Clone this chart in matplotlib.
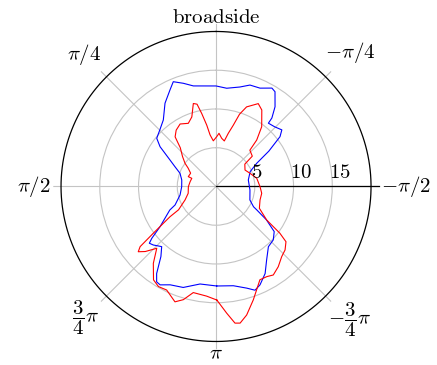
import matplotlib.pyplot as plt
import numpy as np
from matplotlib.transforms import offset_copy

plt.rcParams['mathtext.fontset'] = 'cm'

# blue pattern: angle (deg, 0 = broadside, counterclockwise) and radius
blue_deg = [-179.6, -170.1, -163.2, -159.4, -155.9, -150.6, -145.4, -139.0, -133.0, -127.8,
            -123.5, -120.0, -118.4, -111.7, -95.9, -78.6, -66.5, -60.3, -56.2, -52.1,
            -49.3, -44.6, -39.6, -39.2, -36.5, -31.9, -29.6, -24.1, -18.5, -13.5,
            -6.2, 0.0, 12.7, 17.6, 22.2, 25.5, 31.5, 38.4, 44.7, 50.9,
            54.6, 60.1, 64.2, 69.9, 79.3, 90.3, 103.3, 114.3, 117.0, 125.7,
            128.9, 130.4, 133.0, 137.9, 141.8, 145.7, 148.1, 150.4, 155.0, 162.0, 170.7]
blue_r = [12.84, 13.0, 13.7, 14.3, 13.9, 12.9, 11.5, 10.3, 10.1, 9.5,
          7.8, 6.1, 5.5, 4.7, 4.4, 4.25, 4.8, 6.05, 8.2, 10.46,
          11.2, 10.8, 10.6, 11.4, 12.8, 14.4, 14.6, 13.9, 13.8, 13.2,
          12.75, 12.97, 13.3, 13.97, 14.6, 13.8, 12.6, 10.95, 10.3, 9.86,
          8.86, 6.85, 5.9, 4.95, 4.5, 4.43, 4.77, 5.8, 6.7, 8.9,
          10.65, 11.3, 11.07, 10.46, 11.5, 13.6, 14.5, 14.6, 14.0, 13.7, 12.75]

# red pattern
red_deg = [-179.6, -175.2, -172.1, -170.0, -166.6, -161.8, -154.8, -150.6, -147.1, -142.2,
           -136.9, -132.6, -128.3, -126.2, -123.5, -116.7, -107.1, -98.5, -90.3, -78.6,
           -68.8, -60.4, -52.2, -50.1, -43.0, -41.2, -37.4, -30.9, -27.0, -21.0,
           -18.0, -15.7, -13.0, -10.3, -6.7, -3.2, -0.8, 3.4, 6.6, 8.6,
           11.1, 13.0, 15.3, 19.2, 23.7, 29.9, 35.3, 39.5, 42.7, 48.2,
           53.2, 56.7, 62.4, 70.5, 71.4, 79.5, 90.4, 103.8, 113.5, 121.9,
           123.3, 126.7, 128.4, 130.0, 132.6, 136.2, 140.8, 146.2, 150.1, 154.5,
           160.4, 163.9, 167.9, 175.1]
red_r = [14.65, 16.4, 17.8, 17.9, 17.05, 15.4, 13.3, 13.35, 13.6, 13.1,
         12.4, 12.1, 11.5, 10.2, 7.84, 6.26, 5.94, 5.96, 5.68, 5.36,
         4.7, 4.3, 4.7, 6.1, 6.4, 7.97, 9.7, 11.5, 12.0, 11.0,
         9.8, 8.2, 7.05, 5.97, 6.26, 6.87, 6.43, 5.9, 6.7, 8.0,
         9.6, 10.9, 11.1, 9.5, 8.9, 9.3, 8.9, 8.3, 6.8, 5.8,
         5.0, 4.3, 3.7, 3.8, 3.3, 3.4, 3.57, 3.7, 4.36, 5.7,
         7.1, 10.1, 12.5, 13.1, 12.4, 11.05, 12.8, 14.5, 14.9, 14.8,
         15.8, 15.2, 14.0, 14.2]

tick_deg = [0, 45, -45, 90, -90, 135, -135, 180]
tick_lbl = [r'$\mathrm{broadside}$', r'$\pi/4$', r'$-\pi/4$', r'$\pi/2$', r'$-\pi/2$',
            r'$\dfrac{3}{4}\pi$', r'$-\dfrac{3}{4}\pi$', r'$\pi$']
tick_lbl_r = [21.87, 24.1, 24.5, 23.5, 24.5, 23.9, 24.3, 21.46]
r_ticks = [5, 10, 15]
r_max = 20
r_lim = 21


def closed(deg, r):
    th = np.deg2rad(np.array(deg + [deg[0] + 360]))
    return th, np.array(r + [r[0]])


fig = plt.figure(figsize=(4.37, 3.65), dpi=100)
ax = fig.add_axes([0.1219, 0.0432, 0.7449, 0.8918], projection='polar')
ax.set_theta_zero_location('N')
ax.set_theta_direction(1)
ax.set_ylim(0, r_lim)
ax.set_rticks(r_ticks)
ax.set_yticklabels([])
ax.set_thetagrids([d % 360 for d in tick_deg], labels=[''] * len(tick_deg))
ax.spines['polar'].set_visible(False)
ax.grid(True, color='#c4c4c4', lw=0.8)
ax.set_axisbelow(True)
ax.tick_params(length=0)

th = np.linspace(0, 2 * np.pi, 400)
ax.plot(th, np.full_like(th, r_max), color='k', lw=0.9)
ax.plot([-np.pi / 2, -np.pi / 2], [0, r_lim], color='k', lw=0.9, clip_on=False)

t, r = closed(blue_deg, blue_r)
ax.plot(t, r, color='blue', lw=0.8)
t, r = closed(red_deg, red_r)
ax.plot(t, r, color='red', lw=0.8)

for d, lbl, rr in zip(tick_deg, tick_lbl, tick_lbl_r):
    ax.text(np.deg2rad(d), rr, lbl, ha='center', va='center', fontsize=15)

trans = offset_copy(ax.transData, fig=fig, x=-2.5, y=5.9, units='points')
for v in r_ticks:
    ax.text(-np.pi / 2, v, f'${v}$', ha='left', va='baseline', fontsize=15, transform=trans)

plt.savefig('out.png', dpi=100)
